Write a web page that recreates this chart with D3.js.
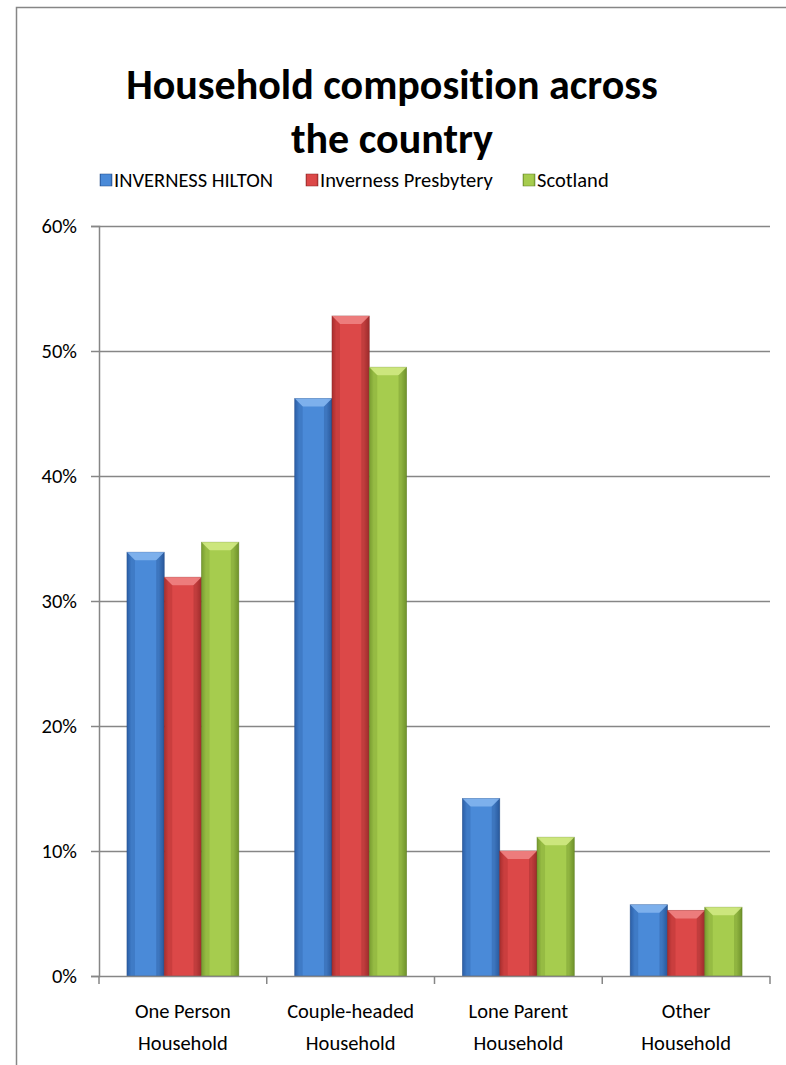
<!DOCTYPE html>
<meta charset="utf-8">
<title>Household composition</title>
<style>
body { margin: 0; background: #fff; }
text { font-family: Carlito, Lato, "Open Sans", sans-serif; fill: #000; font-variant-ligatures: none; }
</style>
<body>
<script src="https://d3js.org/d3.v7.min.js"></script>
<script>

let categories = [["One Person", "Household"], ["Couple-headed", "Household"], ["Lone Parent", "Household"], ["Other", "Household"]];
let seriesNames = ["INVERNESS HILTON", "Inverness Presbytery", "Scotland"];
let hilton = [33.9, 46.2, 14.2, 5.7];
let presbytery = [31.9, 52.8, 10.0, 5.25];
let scotland = [34.7, 48.7, 11.1, 5.5];
let yTicks = [0, 10, 20, 30, 40, 50, 60];

let series = [hilton, presbytery, scotland];
let colors = [
    { mid: "#4a8ad8", edge: "#2c5fa6", top: "#86b6f0", dark: "#214a85" },
    { mid: "#dc4848", edge: "#a82f2f", top: "#f08686", dark: "#862424" },
    { mid: "#a6cc4e", edge: "#789c30", top: "#d2ea86", dark: "#5e7d22" }
];

let W = 786, H = 1065;
let margin = { top: 226, left: 99, right: 16, bottom: 89 };
let width = 770 - margin.left;
let height = 976 - margin.top;
let fontSize = '20.5px';

let svg = d3.select('body').append('svg')
    .attr('width', W)
    .attr('height', H);

// outer chart border (only top/left visible in frame)
svg.append('rect')
    .attr('x', 16.5).attr('y', 7.5)
    .attr('width', W).attr('height', H)
    .attr('fill', 'none')
    .attr('stroke', '#868686')
    .attr('stroke-width', 1.5);

let defs = svg.append('defs');
colors.forEach((c, i) => {
    let g = defs.append('linearGradient')
        .attr('id', `grad${i}`)
        .attr('x1', 0).attr('x2', 1).attr('y1', 0).attr('y2', 0);
    g.append('stop').attr('offset', '0%').attr('stop-color', c.edge);
    g.append('stop').attr('offset', '12%').attr('stop-color', c.mid);
    g.append('stop').attr('offset', '85%').attr('stop-color', c.mid);
    g.append('stop').attr('offset', '100%').attr('stop-color', c.edge);
});

// title
svg.append('text')
    .attr('x', 392).attr('y', 0)
    .attr('text-anchor', 'middle')
    .style('font-size', '42px')
    .style('font-weight', 'bold')
    .selectAll('tspan')
    .data(["Household composition across", "the country"])
    .join('tspan')
        .attr('x', 392)
        .attr('y', (d, i) => 99 + i * 54)
        .text(d => d);

// legend
let legendX = [100, 306, 523];
let legend = svg.selectAll('.legend')
    .data(seriesNames)
    .join('g')
        .attr('class', 'legend')
        .attr('transform', (d, i) => `translate(${legendX[i]},180)`);
legend.append('rect')
    .attr('x', 0).attr('y', -6)
    .attr('width', 12).attr('height', 12)
    .attr('fill', (d, i) => `url(#grad${i})`)
    .attr('stroke', (d, i) => colors[i].dark)
    .attr('stroke-width', 0.5);
legend.append('text')
    .attr('x', 14).attr('y', 0)
    .attr('dy', '0.35em')
    .style('font-size', fontSize)
    .text(d => d);

let g = svg.append('g')
    .attr('transform', `translate(${margin.left},${margin.top})`);

let x0 = d3.scaleBand()
    .domain(d3.range(categories.length))
    .range([0, width]);
let x1 = d3.scaleBand()
    .domain(d3.range(series.length))
    .range([0, x0.bandwidth()])
    .paddingInner(0)
    .paddingOuter(0.75);
let y = d3.scaleLinear().domain([0, 60]).range([height, 0]);

// gridlines
g.selectAll('.grid')
    .data(yTicks.slice(1))
    .join('line')
        .attr('class', 'grid')
        .attr('x1', 0).attr('x2', width)
        .attr('y1', d => Math.round(y(d)) + 0.5)
        .attr('y2', d => Math.round(y(d)) + 0.5)
        .attr('stroke', '#868686')
        .attr('stroke-width', 1.5);

// y axis
let yAxis = g.append('g')
    .call(d3.axisLeft(y).tickValues(yTicks).tickFormat(d => d + '%').tickSize(8).tickPadding(14));
yAxis.attr('font-family', null).attr('font-size', null);
yAxis.select('.domain').attr('stroke', '#868686').attr('stroke-width', 1.5);
yAxis.selectAll('.tick line').attr('stroke', '#868686').attr('stroke-width', 1.5);
yAxis.selectAll('.tick text')
    .style('font-size', fontSize)
    .attr('fill', '#000');

// bars
let groups = g.selectAll('.group')
    .data(categories)
    .join('g')
        .attr('class', 'group')
        .attr('transform', (d, i) => `translate(${x0(i)},0)`);

let bevel = 8;
groups.each(function(cat, ci) {
    let grp = d3.select(this);
    series.forEach((s, si) => {
        let v = s[ci];
        let bx = x1(si), bw = x1.bandwidth();
        let by = y(v), bh = height - y(v);
        let b = grp.append('g').attr('class', 'bar');
        b.append('rect')
            .attr('x', bx).attr('y', by)
            .attr('width', bw).attr('height', bh)
            .attr('fill', `url(#grad${si})`)
            .attr('stroke', colors[si].dark)
            .attr('stroke-width', 0.8)
            .attr('stroke-opacity', 0.6);
        b.append('path')
            .attr('d', `M${bx},${by}L${bx + bw},${by}L${bx + bw - bevel},${by + bevel}L${bx + bevel},${by + bevel}Z`)
            .attr('fill', colors[si].top)
            .attr('opacity', 0.85);
        b.append('path')
            .attr('d', `M${bx},${by}L${bx + bevel},${by + bevel}L${bx + bevel},${y(0)}L${bx},${y(0)}Z`)
            .attr('fill', colors[si].edge)
            .attr('opacity', 0.35);
        b.append('path')
            .attr('d', `M${bx + bw},${by}L${bx + bw - bevel},${by + bevel}L${bx + bw - bevel},${y(0)}L${bx + bw},${y(0)}Z`)
            .attr('fill', colors[si].dark)
            .attr('opacity', 0.3);
    });
});

// x axis
let xAxis = g.append('g')
    .attr('transform', `translate(0,${height})`);
xAxis.append('line')
    .attr('x1', 0).attr('x2', width)
    .attr('y1', 0.5).attr('y2', 0.5)
    .attr('stroke', '#868686').attr('stroke-width', 1.5);
xAxis.selectAll('.xtick')
    .data(d3.range(categories.length + 1))
    .join('line')
        .attr('class', 'xtick')
        .attr('x1', d => d * x0.bandwidth()).attr('x2', d => d * x0.bandwidth())
        .attr('y1', 0).attr('y2', 8)
        .attr('stroke', '#868686').attr('stroke-width', 1.5);
xAxis.selectAll('.xlabel')
    .data(categories)
    .join('text')
        .attr('class', 'xlabel')
        .attr('text-anchor', 'middle')
        .style('font-size', fontSize)
        .selectAll('tspan')
        .data((d, i) => d.map(t => ({ t, i })))
        .join('tspan')
            .attr('x', d => x0(d.i) + x0.bandwidth() / 2)
            .attr('y', (d, j) => 42 + j * 32)
            .text(d => d.t);

</script>
</body>
